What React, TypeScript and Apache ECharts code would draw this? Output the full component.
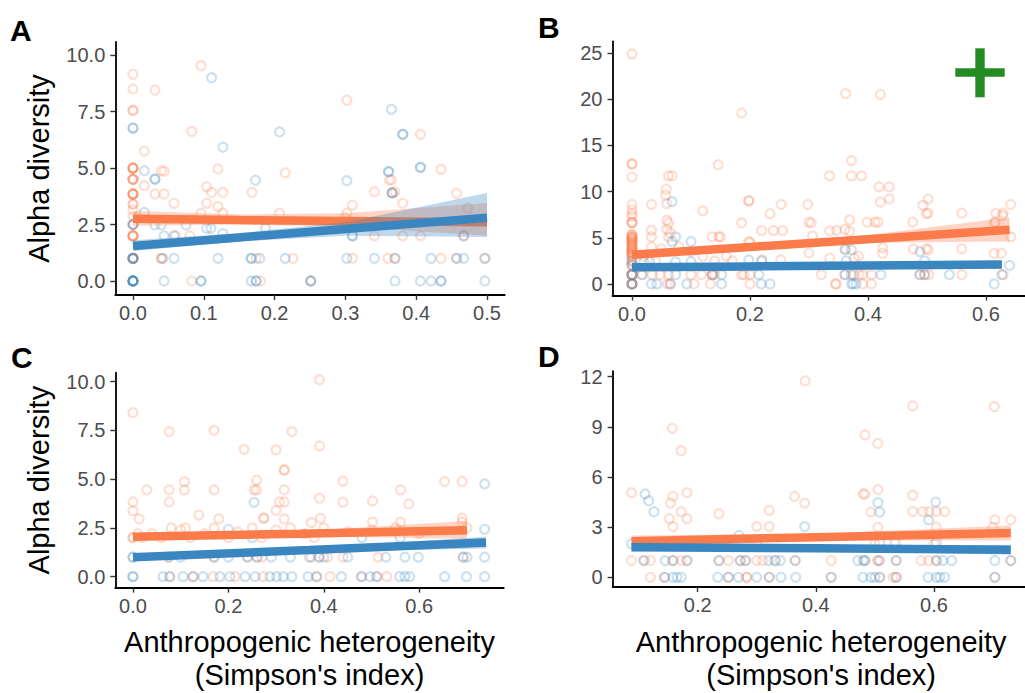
import React, { useEffect, useRef } from "react";
import * as echarts from "echarts";

const ORANGE = "#FB7B4A";
const BLUE = "#3A86C0";
const FONT = "'Liberation Sans', Arial, Helvetica, sans-serif";

// ---------- Panel A ----------
const aXTicks = [0, 0.1, 0.2, 0.3, 0.4, 0.5];
const aYTicks = [0, 2.5, 5, 7.5, 10];
const aOrange = [
  [0, 9.15], [0, 8.5], [0.031, 8.45], [0.096, 9.53], [0, 7.55], [0, 7.55], [0.083, 6.62], [0.016, 5.75],
  [0, 5.0], [0, 5.0], [0, 5.0], [0, 5.0], [0, 5.0], [0.04, 4.88], [0.044, 4.85], [0.12, 4.96], [0.215, 4.79],
  [0, 4.5], [0, 4.5], [0, 4.5], [0, 4.5], [0.016, 4.22], [0.104, 4.17], [0, 3.85], [0, 3.85], [0, 3.85], [0, 3.85], [0, 3.85],
  [0.031, 3.85], [0.044, 3.85],
  [0.111, 3.92], [0.127, 3.92], [0.168, 3.92], [0.058, 3.44], [0.104, 3.44], [0.12, 3.29], [0, 3.4], [0, 3.4], [0, 3.15],
  [0.127, 3.0], [0.096, 3.0], [0.207, 3.0], [0, 2.85], [0, 2.5], [0, 2.5], [0, 2.0], [0, 2.0], [0, 2.0], [0, 2.0], [0, 2.0],
  [0.06, 2.0], [0.08, 2.0],
  [0, 1.0], [0, 1.0], [0, 1.0], [0.04, 1.0], [0.04, 1.0], [0.174, 1.0], [0.226, 1.0], [0.083, 0], [0.18, 0], [0.251, 0],
  [0.302, 8.0], [0.406, 6.49], [0.435, 4.94], [0.362, 4.47], [0.365, 4.47], [0.341, 3.95], [0.366, 3.9], [0.37, 3.95], [0.457, 3.88],
  [0.31, 3.36], [0.381, 3.44], [0.473, 3.22], [0.302, 3.0], [0.299, 2.8], [0.341, 2.0], [0.381, 2.0], [0.406, 2.0], [0.467, 2.0],
  [0.31, 1.0], [0.36, 1.0], [0.37, 1.0], [0.435, 1.0], [0.457, 1.0], [0.497, 1.0],
];
const aBlue = [
  [0, 6.77], [0, 6.77], [0.111, 9.0], [0.207, 6.6], [0.127, 5.92], [0.016, 4.88], [0.031, 4.51], [0.031, 4.51], [0.173, 4.46], [0.016, 3.04],
  [0, 2.5], [0, 2.5], [0.031, 2.48], [0.04, 2.48], [0.075, 2.48], [0.104, 2.33], [0.11, 2.33], [0.127, 2.1], [0.187, 2.33], [0.044, 2.0],
  [0.058, 2.0],
  [0, 1.0], [0, 1.0], [0, 1.0], [0, 1.0], [0.042, 1.0], [0.058, 1.0], [0.12, 1.0], [0.167, 1.0], [0.167, 1.0], [0.179, 1.0], [0.215, 1.0],
  [0, 0], [0, 0], [0, 0], [0, 0], [0, 0], [0, 0], [0, 0], [0, 0], [0.044, 0], [0.096, 0], [0.096, 0], [0.167, 0], [0.174, 0], [0.174, 0],
  [0.251, 0], [0.251, 0],
  [0.365, 7.6], [0.381, 6.49], [0.381, 6.49], [0.406, 5.03], [0.406, 5.03], [0.302, 4.44], [0.361, 4.84], [0.361, 4.84], [0.366, 3.9], [0.366, 3.9],
  [0.31, 2.0], [0.31, 2.0], [0.467, 2.0], [0.302, 1.0], [0.341, 1.0], [0.37, 1.0], [0.421, 1.0], [0.457, 1.0], [0.467, 1.0], [0.497, 1.0],
  [0.37, 0], [0.406, 0], [0.421, 0], [0.435, 0], [0.435, 0], [0.497, 0],
];
const aFitX = [0, 0.15, 0.3, 0.5];
const aOrangeFit = [2.75, 2.7, 2.66, 2.6];
const aOrangeLo = [2.45, 2.5, 2.4, 2.0];
const aOrangeHi = [3.1, 2.95, 3.0, 3.45];
const aBlueFit = [1.55, 1.93, 2.3, 2.8];
const aBlueLo = [1.33, 1.75, 2.0, 1.95];
const aBlueHi = [1.8, 2.12, 2.6, 3.9];

// ---------- Panel B ----------
const bXTicks = [0, 0.2, 0.4, 0.6];
const bYTicks = [0, 5, 10, 15, 20, 25];
const bOrange = [
  [0, 24.9], [0, 13], [0, 13], [0, 11.55], [0, 8.6], [0, 8.0], [0, 7.6], [0, 7.3], [0, 6.64], [0, 6.64], [0, 6.64],
  [0, 5.4], [0, 5.3], [0, 5.2], [0, 5.1], [0, 5.0], [0, 5.0], [0, 4.9], [0, 4.8], [0, 4.7], [0, 4.6], [0, 4.5], [0, 4.4], [0, 4.3],
  [0, 4.2], [0, 4.1], [0, 4.0], [0, 3.9], [0, 3.8], [0, 3.7], [0, 3.6], [0, 3.5], [0, 3.4], [0, 3.3], [0, 3.2], [0, 3.1], [0, 3.0],
  [0, 2.8], [0, 2.5], [0, 2.2], [0, 2.0],
  [0, 1.0], [0, 1.0], [0, 1.0], [0, 1.0], [0, 0], [0, 0], [0, 0], [0, 0],
  [0.186, 18.5], [0.146, 12.9], [0.062, 11.7], [0.068, 11.7], [0.058, 10.25], [0.057, 9.6], [0.059, 8.7], [0.033, 8.6], [0.198, 9.0], [0.198, 9.0],
  [0.253, 8.6], [0.298, 8.6], [0.234, 7.6], [0.12, 7.9],
  [0.059, 6.9], [0.062, 6.6], [0.186, 6.6], [0.304, 6.6], [0.3, 6.7], [0.24, 5.77], [0.255, 5.77], [0.22, 5.77], [0.033, 5.8], [0.059, 5.9],
  [0.065, 5.5], [0.136, 5.1], [0.147, 5.1], [0.15, 5.1], [0.033, 5.1], [0.062, 5.1], [0.306, 5.2],
  [0.198, 4.58], [0.2, 4.5], [0.033, 4.0], [0.05, 3.8], [0.08, 4.0], [0.1, 3.5], [0.12, 3.0], [0.16, 3.0], [0.02, 3.0], [0.3, 3.35],
  [0.04, 2.5], [0.14, 2.5], [0.17, 2.5], [0.22, 2.6], [0.252, 2.6],
  [0.017, 1.0], [0.034, 1.0], [0.048, 1.0], [0.062, 1.0], [0.1, 1.0], [0.118, 1.0], [0.136, 1.0], [0.136, 1.0], [0.14, 1.0], [0.186, 1.0],
  [0.19, 1.0], [0.2, 1.0],
  [0.06, 0], [0.065, 0], [0.105, 0], [0.133, 0], [0.2, 0],
  [0.362, 20.6], [0.421, 20.5], [0.372, 13.35], [0.335, 11.7], [0.372, 11.7], [0.389, 11.7], [0.419, 10.5], [0.436, 10.5], [0.421, 8.84],
  [0.436, 9.2], [0.502, 9.2], [0.493, 8.5], [0.499, 7.6], [0.502, 7.65],
  [0.642, 8.6], [0.617, 7.65], [0.629, 7.65], [0.559, 7.65], [0.369, 6.93], [0.399, 6.7], [0.412, 6.7], [0.417, 6.7], [0.476, 6.7],
  [0.616, 6.7], [0.628, 7.4], [0.335, 5.74], [0.361, 5.9], [0.369, 5.7], [0.347, 5.8], [0.642, 5.1], [0.614, 6.6],
  [0.425, 3.9], [0.425, 3.3], [0.502, 3.7], [0.559, 3.8], [0.477, 3.8], [0.499, 3.8], [0.362, 3.8], [0.384, 3.0], [0.614, 3.3],
  [0.626, 3.3], [0.335, 2.78], [0.377, 2.78],
  [0.321, 1.0], [0.361, 1.0], [0.376, 1.0], [0.385, 1.0], [0.391, 1.0], [0.406, 1.0], [0.488, 1.0], [0.496, 1.0], [0.503, 1.0],
  [0.559, 1.0], [0.629, 1.0],
  [0.345, 0], [0.346, 0], [0.391, 0], [0.406, 0],
];
const bBlue = [
  [0, 2.5], [0, 2.0], [0, 1.0], [0, 1.0], [0, 0], [0, 0], [0.068, 8.9], [0.074, 5.1], [0.068, 4.58], [0.1, 4.58],
  [0.02, 2.4], [0.03, 2.4], [0.074, 2.4], [0.1, 2.4], [0.198, 2.6], [0.22, 2.5],
  [0.017, 1.0], [0.074, 1.0], [0.136, 1.0], [0.152, 1.0], [0.215, 1.0],
  [0.033, 0], [0.042, 0], [0.065, 0], [0.093, 0], [0.152, 0], [0.219, 0], [0.234, 0],
  [0.488, 3.5], [0.361, 3.7], [0.372, 3.7], [0.363, 2.5], [0.496, 2.5], [0.64, 2.0],
  [0.361, 1.0], [0.372, 1.0], [0.422, 1.0], [0.488, 1.0], [0.496, 1.0], [0.538, 1.0], [0.627, 1.0],
  [0.614, 0], [0.372, 0], [0.375, 0], [0.38, 0],
];
const bOrangeX = [0, 0.2, 0.4, 0.64];
const bOrangeFit = [3.15, 4.0, 4.85, 5.87];
const bOrangeLo = [2.8, 3.72, 4.45, 4.6];
const bOrangeHi = [3.5, 4.3, 5.3, 7.2];
const bBlueX = [0, 0.2, 0.4, 0.627];
const bBlueFit = [1.8, 1.9, 2.0, 2.1];
const bBlueLo = [1.5, 1.68, 1.72, 1.65];
const bBlueHi = [2.1, 2.12, 2.28, 2.55];

// ---------- Panel C ----------
const cXTicks = [0, 0.2, 0.4, 0.6];
const cYTicks = [0, 2.5, 5, 7.5, 10];
const cOrange = [
  [0, 8.41], [0.076, 7.44], [0.17, 7.5], [0.333, 7.44], [0.233, 6.53], [0.3, 6.5], [0.108, 4.87], [0.259, 4.95], [0.317, 5.47], [0.317, 5.47],
  [0.029, 4.45], [0.076, 4.45], [0.108, 4.45], [0.17, 4.45], [0.254, 4.45], [0.259, 4.45], [0.317, 4.45],
  [0, 3.83], [0, 3.37], [0.076, 3.83], [0.307, 3.83], [0.317, 3.83], [0.3, 3.4], [0.013, 2.96], [0.138, 3.16], [0.18, 2.96], [0.274, 3.0],
  [0.274, 3.0], [0.317, 2.96],
  [0, 2.0], [0, 2.0], [0.01, 2.2], [0.02, 2.0], [0.04, 2.2], [0.06, 2.0], [0.08, 2.5], [0.1, 2.4], [0.11, 2.5], [0.12, 2.0], [0.15, 2.2],
  [0.17, 2.5], [0.2, 2.0], [0.22, 2.3], [0.25, 2.5], [0.27, 2.0], [0.3, 2.4], [0.33, 2.5], [0.36, 2.2], [0.38, 2.0], [0.4, 2.5], [0.45, 2.3],
  [0.5, 2.4], [0.55, 2.5], [0.6, 2.2], [0.7, 2.5],
  [0.075, 1], [0.17, 1], [0.24, 1], [0.26, 1], [0.27, 1], [0.374, 1], [0.39, 1], [0.408, 1], [0.44, 1], [0.514, 1], [0.692, 1],
  [0.077, 0], [0.126, 0], [0.168, 0], [0.214, 0], [0.273, 0], [0.385, 0], [0.413, 0], [0.479, 0], [0.511, 0], [0.532, 0],
  [0.391, 10.1], [0.391, 6.7], [0.44, 4.9], [0.653, 4.88], [0.69, 4.88], [0.391, 4.02], [0.44, 3.82], [0.502, 3.88], [0.561, 4.45],
  [0.578, 3.73], [0.393, 2.99], [0.374, 2.77], [0.502, 2.8], [0.561, 2.8], [0.69, 2.8], [0.69, 3.0],
];
const cBlue = [
  [0.254, 3.81], [0.2, 2.43], [0.737, 4.76], [0.737, 2.43], [0.25, 2.0], [0.48, 2.0], [0.56, 2.0],
  [0, 1], [0, 1], [0.075, 1], [0.1, 1], [0.17, 1], [0.2, 1], [0.24, 1], [0.26, 1], [0.29, 1], [0.33, 1], [0.37, 1], [0.39, 1], [0.4, 1],
  [0.45, 1], [0.53, 1], [0.57, 1], [0.598, 1], [0.692, 1], [0.7, 1], [0.737, 1],
  [0, 0], [0, 0], [0.063, 0], [0.077, 0], [0.105, 0], [0.126, 0], [0.147, 0], [0.182, 0], [0.203, 0], [0.235, 0], [0.256, 0], [0.287, 0],
  [0.301, 0], [0.315, 0], [0.333, 0], [0.367, 0], [0.385, 0], [0.437, 0], [0.479, 0], [0.497, 0], [0.511, 0], [0.559, 0], [0.57, 0],
  [0.58, 0], [0.653, 0], [0.699, 0], [0.737, 0],
];
const cOrangeX = [0, 0.35, 0.7];
const cOrangeFit = [2.05, 2.2, 2.38];
const cOrangeLo = [1.9, 2.07, 1.95];
const cOrangeHi = [2.2, 2.33, 2.85];
const cBlueX = [0, 0.37, 0.74];
const cBlueFit = [1.0, 1.37, 1.75];
const cBlueLo = [0.88, 1.27, 1.45];
const cBlueHi = [1.12, 1.47, 2.05];

// ---------- Panel D ----------
const dXTicks = [0.2, 0.4, 0.6];
const dYTicks = [0, 3, 6, 9, 12];
const dOrange = [
  [0.382, 11.74], [0.157, 8.91], [0.172, 7.57], [0.088, 5.06], [0.158, 4.83], [0.154, 4.44], [0.182, 5.06], [0.152, 3.5], [0.172, 3.92],
  [0.182, 3.5], [0.158, 3.03], [0.236, 3.8], [0.364, 4.83], [0.381, 4.44], [0.321, 4.0], [0.321, 3.03], [0.3, 3.03],
  [0.564, 10.25], [0.702, 10.2], [0.483, 8.51], [0.505, 8.0], [0.48, 4.98], [0.483, 4.98], [0.505, 5.25], [0.564, 4.9], [0.493, 3.9],
  [0.564, 3.93], [0.581, 3.93], [0.592, 3.93], [0.604, 3.93], [0.618, 3.93], [0.505, 2.99], [0.703, 3.43], [0.73, 3.43], [0.604, 3.0], [0.7, 3.0],
  [0.1, 2], [0.2, 2], [0.3, 2], [0.5, 2], [0.6, 2],
  [0.088, 1], [0.109, 1], [0.12, 1], [0.158, 1], [0.172, 1], [0.182, 1], [0.236, 1], [0.252, 1], [0.272, 1], [0.281, 1], [0.3, 1],
  [0.31, 1], [0.331, 1], [0.365, 1], [0.426, 1], [0.483, 1], [0.505, 1], [0.505, 1], [0.536, 1], [0.578, 1], [0.591, 1], [0.604, 1], [0.73, 1],
  [0.12, 0], [0.144, 0], [0.252, 0], [0.283, 0], [0.283, 0], [0.321, 0], [0.426, 0], [0.508, 0], [0.531, 0], [0.536, 0], [0.703, 0],
];
const dBlue = [
  [0.111, 4.98], [0.117, 4.58], [0.126, 3.92], [0.381, 3.03], [0.505, 4.46], [0.603, 4.5], [0.508, 3.9], [0.591, 3.43], [0.604, 2.08],
  [0.508, 2.07], [0.534, 2.07], [0.088, 2.0], [0.27, 2.5],
  [0.109, 1], [0.145, 1], [0.158, 1], [0.182, 1], [0.236, 1], [0.272, 1], [0.281, 1], [0.32, 1], [0.331, 1], [0.34, 1], [0.365, 1],
  [0.471, 1], [0.483, 1], [0.508, 1], [0.536, 1], [0.604, 1], [0.615, 1], [0.63, 1], [0.703, 1], [0.73, 1], [0.48, 1],
  [0.144, 0], [0.158, 0], [0.165, 0], [0.172, 0], [0.234, 0], [0.252, 0], [0.269, 0], [0.3, 0], [0.321, 0], [0.341, 0], [0.366, 0],
  [0.426, 0], [0.48, 0], [0.493, 0], [0.5, 0], [0.508, 0], [0.536, 0], [0.59, 0], [0.604, 0], [0.61, 0], [0.618, 0], [0.703, 0],
];
const dOrangeX = [0.088, 0.4, 0.73];
const dOrangeFit = [2.15, 2.4, 2.65];
const dOrangeLo = [1.8, 2.2, 2.2];
const dOrangeHi = [2.5, 2.6, 3.1];
const dBlueX = [0.088, 0.4, 0.73];
const dBlueFit = [1.8, 1.73, 1.65];
const dBlueLo = [1.55, 1.6, 1.35];
const dBlueHi = [2.05, 1.86, 1.95];

const panelLetters = ["A", "B", "C", "D"];
const yTitle = "Alpha diversity";
const xTitle = "Anthropogenic heterogeneity\n(Simpson's index)";

type Panel = {
  grid: any;
  xMin: number; xMax: number; xTicks: number[]; xDec: number;
  yMin: number; yMax: number; yTicks: number[]; yDec: number;
  orange: number[][]; blue: number[][];
  oX: number[]; oFit: number[]; oLo: number[]; oHi: number[];
  bX: number[]; bFit: number[]; bLo: number[]; bHi: number[];
  showY: boolean; showX: boolean;
};

const panels: Panel[] = [
  {
    grid: { left: 115.3, top: 42, width: 389.4, height: 253 },
    xMin: -0.025, xMax: 0.525, xTicks: aXTicks, xDec: 1,
    yMin: -0.62, yMax: 10.58, yTicks: aYTicks, yDec: 1,
    orange: aOrange, blue: aBlue,
    oX: aFitX, oFit: aOrangeFit, oLo: aOrangeLo, oHi: aOrangeHi,
    bX: aFitX, bFit: aBlueFit, bLo: aBlueLo, bHi: aBlueHi,
    showY: true, showX: false,
  },
  {
    grid: { left: 612.5, top: 41.4, width: 417.7, height: 254.1 },
    xMin: -0.033, xMax: 0.675, xTicks: bXTicks, xDec: 1,
    yMin: -1.25, yMax: 26.25, yTicks: bYTicks, yDec: 0,
    orange: bOrange, blue: bBlue,
    oX: bOrangeX, oFit: bOrangeFit, oLo: bOrangeLo, oHi: bOrangeHi,
    bX: bBlueX, bFit: bBlueFit, bLo: bBlueLo, bHi: bBlueHi,
    showY: false, showX: false,
  },
  {
    grid: { left: 115.3, top: 372.7, width: 388.4, height: 214.9 },
    xMin: -0.037, xMax: 0.777, xTicks: cXTicks, xDec: 1,
    yMin: -0.56, yMax: 10.46, yTicks: cYTicks, yDec: 1,
    orange: cOrange, blue: cBlue,
    oX: cOrangeX, oFit: cOrangeFit, oLo: cOrangeLo, oHi: cOrangeHi,
    bX: cBlueX, bFit: cBlueFit, bLo: cBlueLo, bHi: cBlueHi,
    showY: true, showX: true,
  },
  {
    grid: { left: 612.6, top: 371.1, width: 417.1, height: 216 },
    xMin: 0.056, xMax: 0.762, xTicks: dXTicks, xDec: 1,
    yMin: -0.587, yMax: 12.33, yTicks: dYTicks, yDec: 0,
    orange: dOrange, blue: dBlue,
    oX: dOrangeX, oFit: dOrangeFit, oLo: dOrangeLo, oHi: dOrangeHi,
    bX: dBlueX, bFit: dBlueFit, bLo: dBlueLo, bHi: dBlueHi,
    showY: false, showX: true,
  },
];

function ribbon(idx: number, xs: number[], lo: number[], hi: number[], color: string, z: number) {
  return {
    type: "custom",
    xAxisIndex: idx,
    yAxisIndex: idx,
    z,
    silent: true,
    clip: true,
    data: xs.map((x, k) => [x, lo[k], hi[k]]),
    encode: { x: 0, y: [1, 2] },
    renderItem: (params: any, api: any) => {
      if (params.dataIndex !== 0) return null;
      const pts: number[][] = [];
      for (let k = 0; k < xs.length; k++) pts.push(api.coord([xs[k], lo[k]]));
      for (let k = xs.length - 1; k >= 0; k--) pts.push(api.coord([xs[k], hi[k]]));
      return { type: "polygon", shape: { points: pts }, style: { fill: color, opacity: 0.32 } };
    },
  };
}

function fitLine(idx: number, xs: number[], ys: number[], color: string, z: number) {
  return {
    type: "line",
    xAxisIndex: idx,
    yAxisIndex: idx,
    z,
    silent: true,
    showSymbol: false,
    symbol: "none",
    data: xs.map((x, k) => [x, ys[k]]),
    lineStyle: { color, width: 8.5, cap: "butt" },
  };
}

function points(idx: number, data: number[][], color: string) {
  return {
    type: "scatter",
    xAxisIndex: idx,
    yAxisIndex: idx,
    z: 2,
    silent: true,
    symbol: "circle",
    symbolSize: 9,
    data,
    itemStyle: { color: "rgba(255,255,255,0)", borderColor: color, borderWidth: 2.2, opacity: 0.25 },
  };
}

export default function App() {
  const ref = useRef<HTMLDivElement>(null);
  useEffect(() => {
    if (!ref.current) return;
    const chart = echarts.init(ref.current, undefined, { renderer: "svg" });
    const grids: any[] = [];
    const xAxes: any[] = [];
    const yAxes: any[] = [];
    const series: any[] = [];
    panels.forEach((p, i) => {
      grids.push({ ...p.grid, containLabel: false, outerBoundsMode: "none" });
      xAxes.push({
        gridIndex: i,
        type: "value",
        min: p.xMin,
        max: p.xMax,
        name: p.showX ? xTitle : "",
        nameLocation: "middle",
        nameGap: 38,
        nameTextStyle: { fontSize: 29, color: "#000", fontFamily: FONT, lineHeight: 33 },
        axisLine: { show: true, onZero: false, lineStyle: { color: "#000", width: 1.8 } },
        axisTick: { show: true, length: 5, customValues: p.xTicks, lineStyle: { color: "#333", width: 1.4 } },
        axisLabel: {
          show: true,
          customValues: p.xTicks,
          formatter: (v: number) => v.toFixed(p.xDec),
          color: "#4D4D4D",
          fontSize: 20,
          fontFamily: FONT,
          margin: 8,
        },
        splitLine: { show: false },
      });
      yAxes.push({
        gridIndex: i,
        type: "value",
        min: p.yMin,
        max: p.yMax,
        name: p.showY ? yTitle : "",
        nameLocation: "middle",
        nameGap: 62,
        nameTextStyle: { fontSize: 29, color: "#000", fontFamily: FONT },
        axisLine: { show: true, onZero: false, lineStyle: { color: "#000", width: 1.8 } },
        axisTick: { show: true, length: 5, customValues: p.yTicks, lineStyle: { color: "#333", width: 1.4 } },
        axisLabel: {
          show: true,
          customValues: p.yTicks,
          formatter: (v: number) => v.toFixed(p.yDec),
          color: "#4D4D4D",
          fontSize: 20,
          fontFamily: FONT,
          margin: 10,
        },
        splitLine: { show: false },
      });
      series.push(points(i, p.orange, ORANGE));
      series.push(points(i, p.blue, BLUE));
      series.push(ribbon(i, p.oX, p.oLo, p.oHi, ORANGE, 3));
      series.push(fitLine(i, p.oX, p.oFit, ORANGE, 4));
      series.push(ribbon(i, p.bX, p.bLo, p.bHi, BLUE, 5));
      series.push(fitLine(i, p.bX, p.bFit, BLUE, 6));
    });

    const letterPos = [
      { x: 10, y: 30.5 },
      { x: 538, y: 27.5 },
      { x: 11, y: 357 },
      { x: 538, y: 356 },
    ];
    const graphics: any[] = panelLetters.map((t, i) => ({
      type: "text",
      x: letterPos[i].x,
      y: letterPos[i].y,
      style: {
        text: t,
        fontSize: 30,
        fontWeight: "bold",
        fontFamily: FONT,
        fill: "#000",
        verticalAlign: "middle",
        align: "left",
      },
    }));
    graphics.push({ type: "rect", shape: { x: 975.3, y: 48.3, width: 9.4, height: 49 }, style: { fill: "#228B22" } });
    graphics.push({ type: "rect", shape: { x: 955.3, y: 68.3, width: 49.4, height: 8.4 }, style: { fill: "#228B22" } });

    chart.setOption({
      animation: false,
      backgroundColor: "#fff",
      grid: grids,
      xAxis: xAxes,
      yAxis: yAxes,
      series,
      graphic: graphics,
    });
    return () => chart.dispose();
  }, []);
  return (
    <div
      ref={ref}
      style={{ position: "absolute", left: 0, top: 0, width: 1025, height: 693, background: "#fff" }}
    />
  );
}
